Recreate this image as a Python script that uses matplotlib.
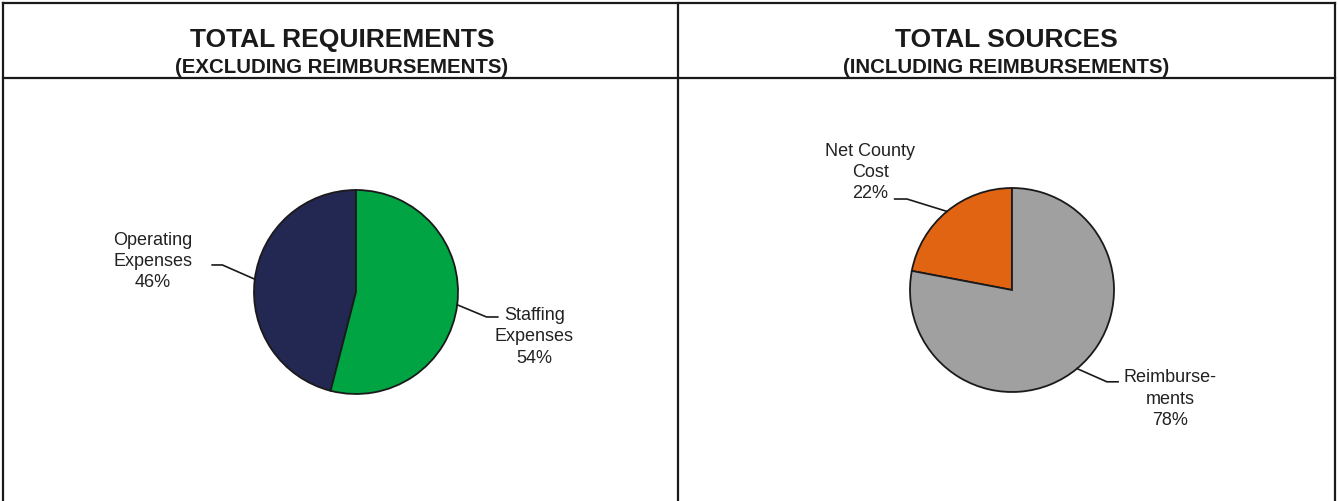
import matplotlib.pyplot as plt
from matplotlib.lines import Line2D
import numpy as np

plt.rcParams['font.family'] = ['Liberation Sans', 'DejaVu Sans']

# left chart
req_labels = ['Operating\nExpenses\n46%', 'Staffing\nExpenses\n54%']
req_values = [46, 54]
req_colors = ['#232852', '#00A443']

# right chart
src_labels = ['Net County\nCost\n22%', 'Reimburse-\nments\n78%']
src_values = [22, 78]
src_colors = ['#E06412', '#A0A0A0']

W, H = 1338, 501
fig = plt.figure(figsize=(W / 100, H / 100), dpi=100)
R = 102  # pie radius in px


def px_axes(cx, cy_top):
    cy = H - cy_top
    return fig.add_axes([(cx - 3 * R) / W, (cy - 2 * R) / H, 6 * R / W, 4 * R / H])


def draw_pie(ax, values, colors, labels, text_pos, elbows):
    wedges, _ = ax.pie(values, colors=colors, startangle=90, counterclock=True,
                       radius=1, wedgeprops=dict(edgecolor='#1a1a1a', linewidth=1.3))
    ax.set_xlim(-3, 3)
    ax.set_ylim(-2, 2)
    ax.set_aspect('equal')
    ax.axis('off')
    for w, lab, (tx, ty), (ex, ey, hx) in zip(wedges, labels, text_pos, elbows):
        mid = np.deg2rad((w.theta1 + w.theta2) / 2)
        x0, y0 = np.cos(mid), np.sin(mid)
        ax.plot([x0, ex, hx], [y0, ey, ey], color='#1a1a1a', lw=1.2, clip_on=False)
        ax.text(tx, ty, lab, ha='center', va='center', fontsize=13,
                color='#222222', linespacing=1.33)


ax1 = px_axes(356, 292)
draw_pie(ax1, req_values, req_colors, req_labels,
         [(-1.99, 0.30), (1.75, -0.44)],
         [(-1.31, 0.265, -1.41), (1.28, -0.245, 1.39)])

ax2 = px_axes(1012, 290)
draw_pie(ax2, src_values, src_colors, src_labels,
         [(-1.39, 1.15), (1.55, -1.07)],
         [(-1.03, 0.892, -1.15), (0.93, -0.90, 1.04)])

# frame lines
def fline(x0, y0, x1, y1):
    fig.add_artist(Line2D([x0 / W, x1 / W], [1 - y0 / H, 1 - y1 / H],
                          color='#1a1a1a', lw=1.6))


fline(3, 3, 1335, 3)
fline(3, 3, 3, 501)
fline(1335, 3, 1335, 501)
fline(678, 3, 678, 501)
fline(3, 78, 1335, 78)

# headers
for cx, t1, t2 in [(342, 'TOTAL REQUIREMENTS', '(EXCLUDING REIMBURSEMENTS)'),
                   (1006, 'TOTAL SOURCES', '(INCLUDING REIMBURSEMENTS)')]:
    fig.text(cx / W, 1 - 47 / H, t1, ha='center', va='baseline',
             fontsize=19, fontweight='bold', color='#1a1a1a')
    fig.text(cx / W, 1 - 73 / H, t2, ha='center', va='baseline',
             fontsize=14.7, fontweight='bold', color='#1a1a1a')

fig.savefig('out.png', dpi=100, facecolor='white')
